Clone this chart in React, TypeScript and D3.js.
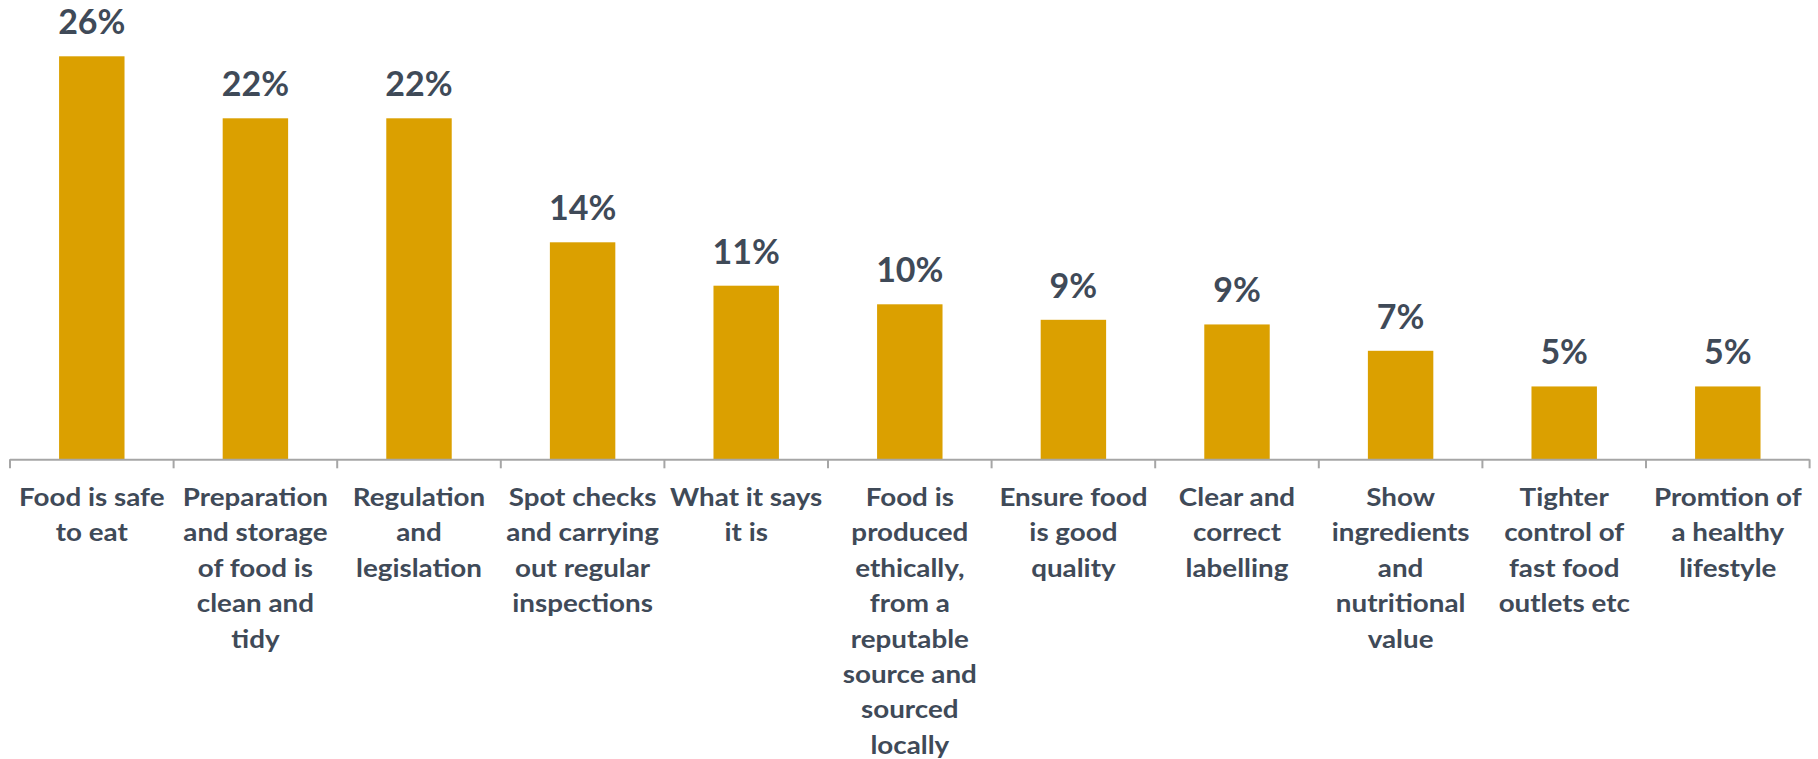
import React from "react";
import * as d3 from "d3";

const categories: string[] = [
  "Food is safe\nto eat",
  "Preparation\nand storage\nof food is\nclean and\ntidy",
  "Regulation\nand\nlegislation",
  "Spot checks\nand carrying\nout regular\ninspections",
  "What it says\nit is",
  "Food is\nproduced\nethically,\nfrom a\nreputable\nsource and\nsourced\nlocally",
  "Ensure food\nis good\nquality",
  "Clear and\ncorrect\nlabelling",
  "Show\ningredients\nand\nnutritional\nvalue",
  "Tighter\ncontrol of\nfast food\noutlets etc",
  "Promtion of\na healthy\nlifestyle",
];

const values: number[] = [26, 22, 22, 14, 11.2, 10, 9, 8.7, 7, 4.7, 4.7];
const valueLabels: string[] = ["26%", "22%", "22%", "14%", "11%", "10%", "9%", "9%", "7%", "5%", "5%"];

const W = 1818;
const H = 759;
const BAR = "#DBA000";
const TEXT = "#3F4A58";
const AXIS = "#A6A6A6";
const FONT = "Lato, 'Open Sans', sans-serif";

export default function App() {
  const x = d3
    .scaleBand<string>()
    .domain(categories)
    .range([10, 1809.6])
    .paddingInner(0.6)
    .paddingOuter(0.3);
  const step = x.step();
  const y = d3.scaleLinear().domain([0, 26]).range([459.3, 56.3]);
  const baseY = y(0);
  const lineH = 35.4;

  return (
    <svg
      width={W}
      height={H}
      style={{ position: "absolute", left: 0, top: 0, background: "#fff" }}
      fontFamily={FONT}
    >
      {categories.map((c, i) => (
        <rect
          key={"b" + i}
          x={x(c)!}
          y={y(values[i])}
          width={x.bandwidth()}
          height={baseY - y(values[i])}
          fill={BAR}
        />
      ))}
      {categories.map((c, i) => (
        <text
          key={"v" + i}
          x={x(c)! + x.bandwidth() / 2}
          y={y(values[i]) - 22}
          textAnchor="middle"
          fontSize={34}
          fontWeight={700}
          fill={TEXT}
        >
          {valueLabels[i]}
        </text>
      ))}
      <line x1={10} x2={1809.6} y1={baseY + 0.5} y2={baseY + 0.5} stroke={AXIS} strokeWidth={2} />
      {d3.range(categories.length + 1).map((k) => {
        const tx = 10 + k * step;
        return <line key={"t" + k} x1={tx} x2={tx} y1={baseY} y2={baseY + 9} stroke={AXIS} strokeWidth={2} />;
      })}
      {categories.map((c, i) => {
        const cx = x(c)! + x.bandwidth() / 2;
        return (
          <text
            key={"c" + i}
            transform={`translate(${cx},0) scale(1.09,1)`}
            textAnchor="middle"
            fontSize={25.5}
            fontWeight={700}
            fill={TEXT}
          >
            {c.split("\n").map((ln, j) => (
              <tspan key={j} x={0} y={506 + j * lineH}>
                {ln}
              </tspan>
            ))}
          </text>
        );
      })}
    </svg>
  );
}
